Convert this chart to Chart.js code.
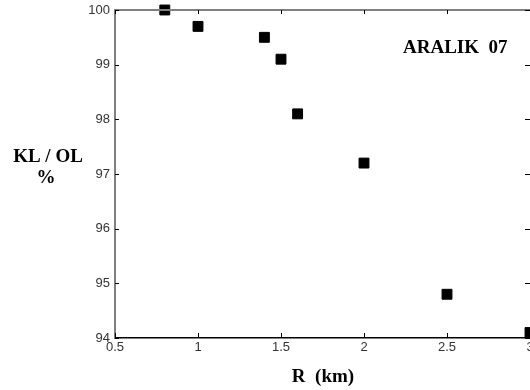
<!DOCTYPE html>
<html>
<head>
<meta charset="utf-8">
<script src="https://cdn.jsdelivr.net/npm/chart.js@4/dist/chart.umd.min.js"></script>
<style>
  html, body { margin: 0; padding: 0; background: #fff; }
  #wrap { position: relative; width: 530px; height: 390px; overflow: hidden; }
</style>
</head>
<body>
<div id="wrap"><canvas id="kl" width="530" height="390"></canvas></div>
<script>
// R (km) vs KL/OL (%)
var rValues = [0.8, 1.0, 1.4, 1.5, 1.6, 2.0, 2.5, 3.0];
var klValues = [100, 99.7, 99.5, 99.1, 98.1, 97.2, 94.8, 94.1];
var xTicks = [0.5, 1, 1.5, 2, 2.5, 3];
var yTicks = [94, 95, 96, 97, 98, 99, 100];

var points = rValues.map(function(r, i){ return {x: r, y: klValues[i]} });

const serif = "bold 19px 'Liberation Serif', 'Times New Roman', serif";

// frame, inward ticks and the text labels
const frame = {
  id: 'frame',
  afterDraw(chart){
    const ctx = chart.ctx
    const a = chart.chartArea
    const xs = chart.scales.x, ys = chart.scales.y
    ctx.save()
    // top spine
    ctx.strokeStyle = '#808080'
    ctx.lineWidth = 2
    ctx.beginPath(); ctx.moveTo(a.left - 1, a.top); ctx.lineTo(a.right, a.top); ctx.stroke()
    // ticks
    ctx.strokeStyle = '#000'
    ctx.lineWidth = 1
    ctx.beginPath()
    for (var t of xTicks){
      var px = Math.round(xs.getPixelForValue(t)) + 0.5
      ctx.moveTo(px, a.bottom); ctx.lineTo(px, a.bottom - 5)
      ctx.moveTo(px, a.top); ctx.lineTo(px, a.top + 4)
    }
    for (var t of yTicks){
      var py = Math.round(ys.getPixelForValue(t)) + 0.5
      ctx.moveTo(a.left, py); ctx.lineTo(a.left + 4, py)
      ctx.moveTo(a.right, py); ctx.lineTo(a.right - 5, py)
    }
    ctx.stroke()
    // labels
    ctx.fillStyle = '#000'
    ctx.font = serif
    ctx.textAlign = 'center'
    ctx.textBaseline = 'alphabetic'
    ctx.fillText('KL / OL', 48, 162)
    ctx.fillText('%', 46, 183)
    ctx.fillText('R  (km)', 323, 382)
    ctx.textAlign = 'left'
    ctx.fillText('ARALIK  07', 403, 53)
    ctx.restore()
  }
}

const tickFont = { family: "'Liberation Sans', Arial, sans-serif", size: 13 }

new Chart('kl', {
  type: 'scatter',
  data: {
    datasets: [{
      data: points,
      pointStyle: 'rect',
      pointRadius: 7,
      pointHoverRadius: 7,
      backgroundColor: '#000',
      borderColor: '#000',
      borderWidth: 1,
      clip: false
    }]
  },
  options: {
    responsive: false,
    animation: false,
    events: [],
    layout: { autoPadding: false, padding: { top: 10, right: 0, left: 0, bottom: 0 } },
    plugins: { legend: { display: false }, tooltip: { enabled: false } },
    scales: {
      x: {
        type: 'linear',
        min: 0.5, max: 3,
        afterFit: function(s){ s.height = 52; s.paddingLeft = 0; s.paddingRight = 0 },
        afterBuildTicks: function(s){ s.ticks = xTicks.map(function(v){ return {value: v} }) },
        grid: { display: true, drawOnChartArea: false, drawTicks: false },
        border: { display: true, color: '#000', width: 1.5 },
        ticks: { padding: 2, color: '#333', maxRotation: 0, autoSkip: false, font: tickFont,
          callback: function(v){ return String(v) } }
      },
      y: {
        type: 'linear',
        min: 94, max: 100,
        afterFit: function(s){ s.width = 115; s.paddingTop = 0; s.paddingBottom = 0 },
        afterBuildTicks: function(s){ s.ticks = yTicks.map(function(v){ return {value: v} }) },
        grid: { display: true, drawOnChartArea: false, drawTicks: false },
        border: { display: true, color: '#808080', width: 2 },
        ticks: { padding: 5, color: '#333', font: tickFont,
          callback: function(v){ return String(v) } }
      }
    }
  },
  plugins: [frame]
})
</script>
</body>
</html>
